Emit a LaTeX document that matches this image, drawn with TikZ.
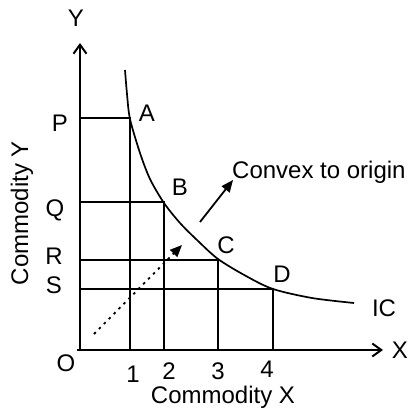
\documentclass[tikz,border=0pt]{standalone}
\usepackage{fontspec}
\setmainfont{Liberation Sans}
\usetikzlibrary{arrows.meta}
\begin{document}
\begin{tikzpicture}[x=1pt,y=-1pt,
  axis/.style={line width=2.2pt},
  gridline/.style={line width=2pt},
  curve/.style={line width=1.7pt},
  lbl/.style={font=\fontsize{24}{28}\selectfont, inner sep=0pt},
  barb/.style={-{Straight Barb[length=9pt,width=13pt,line width=2pt]}},
  tri/.style={-{Triangle[length=12pt,width=10pt]}},
]
\useasboundingbox (0,0) rectangle (410,413);
% key points
\coordinate (O) at (80,350);
\coordinate (Ytip) at (80,43);
\coordinate (Xtip) at (383,350);
\coordinate (Xstart) at (77,350);
\coordinate (A) at (130,118);
\coordinate (B) at (164,202);
\coordinate (C) at (218,260);
\coordinate (D) at (273,289);
\coordinate (ICs) at (125,70);
\coordinate (ICe) at (354,303);
\coordinate (DotS) at (94,334);
\coordinate (DotE) at (182,245);
\coordinate (CvS) at (200,222);
\coordinate (CvE) at (233,180);

% grid lines
\foreach \p in {A,B,C,D}{
  \draw[gridline] (O |- \p) -- (\p) -- (\p |- O);
}

% axes
\draw[axis,barb] (80,351) -- (Ytip);
\draw[axis,barb] (Xstart) -- (Xtip);

% indifference curve
\draw[curve] plot[smooth, tension=0.5] coordinates
  {(ICs) (127,94) (130,119) (140,153) (150,179) (164,203) (180,223) (197,240) (218,259) (246,276) (273,289) (312,298) (ICe)};

% arrows
\draw[line width=1.8pt, dash pattern=on 2.5pt off 4.5pt, tri] (DotS) -- (DotE);
\draw[line width=1.8pt, tri] (CvS) -- (CvE);

% labels
\node[lbl] (lY) at (76,18) {Y};
\node[lbl] (lX) at (400,350) {X};
\node[lbl] (lO) at (66,363) {O};
\node[lbl] (l1) at (133,374) {1};
\node[lbl] (l2) at (169,371) {2};
\node[lbl] (l3) at (218,371) {3};
\node[lbl] (l4) at (267,369) {4};
\node[lbl] (lP) at (60,123) {P};
\node[lbl] (lQ) at (55,210) {Q};
\node[lbl] (lR) at (54,256) {R};
\node[lbl] (lS) at (54,285) {S};
\node[lbl] (lA) at (147,113) {A};
\node[lbl] (lB) at (180,187) {B};
\node[lbl] (lC) at (226,245) {C};
\node[lbl] (lD) at (282,274) {D};
\node[lbl] (lIC) at (384,308) {IC};
\node[lbl, anchor=base west] (lcv) at (232,178) {Convex to origin};
\node[lbl] (lcx) at (223,397) {Commodity X};
\node[lbl, rotate=90] (lcy) at (22,213) {Commodity Y};
\end{tikzpicture}
\end{document}
